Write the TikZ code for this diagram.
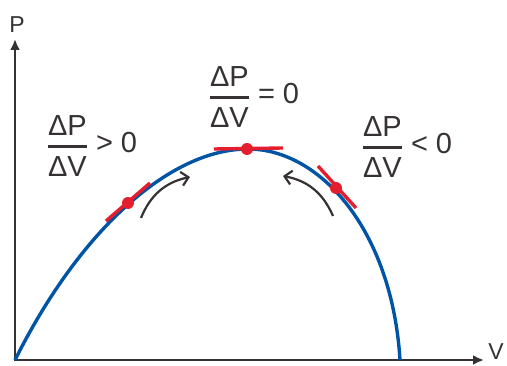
\documentclass[tikz,border=0pt]{standalone}
\usepackage{amsmath}
\usepackage{fontspec}
\setmainfont{Liberation Sans}
\usetikzlibrary{arrows.meta,positioning}
\definecolor{curveblue}{RGB}{0,84,166}
\definecolor{tanred}{RGB}{228,30,45}
\definecolor{axisgray}{RGB}{55,50,50}
\newcommand{\dPdV}{$\displaystyle{\text{ΔP}\above2.8pt\text{ΔV}}$}

\begin{document}
\begin{tikzpicture}[
    x=1pt, y=-1pt,
    axis/.style={draw=axisgray, line width=2.8pt, -{Latex[length=11pt,width=10pt]}},
    pvcurve/.style={draw=curveblue, line width=3.4pt},
    tangent/.style={draw=tanred, line width=3.4pt},
    dot/.style={circle, fill=tanred, inner sep=0pt, minimum size=12pt},
    move/.style={draw=axisgray, line width=2.2pt, -{Straight Barb[length=7pt,width=14pt]}},
    lbl/.style={text=axisgray, font=\fontsize{29}{34}\selectfont, inner sep=0pt},
    axlbl/.style={text=axisgray, font=\fontsize{23}{28}\selectfont, inner sep=0pt},
]
\useasboundingbox (0,0) rectangle (507,366);

% axes
\coordinate (O) at (15,360);
\coordinate (ytop) at (15,39);
\coordinate (xend) at (484,360);
\draw[axis] ([yshift=-1.4pt]O) -- (ytop);
\draw[axis] ([xshift=-1.4pt]O) -- (xend);
\node[axlbl] (P) at (17,25) {P};
\node[axlbl] (V) at (496,352) {V};

% P-V curve
\coordinate (peak) at (248,149);
\coordinate (vend) at (400,360);
\draw[pvcurve] (O) .. controls (80,230) and (170,149) .. (peak)
  .. controls (320,149) and (392,230) .. (vend);

% tangents
\coordinate (tl1) at (106,221); \coordinate (tl2) at (150,183);
\coordinate (tm1) at (214,149); \coordinate (tm2) at (283,148);
\coordinate (tr1) at (318,166); \coordinate (tr2) at (356,208);
\draw[tangent] (tl1) -- (tl2);
\draw[tangent] (tm1) -- (tm2);
\draw[tangent] (tr1) -- (tr2);
\node[dot] (dl) at (128,203) {};
\node[dot] (dm) at (247,149) {};
\node[dot] (dr) at (336,188) {};

% direction arrows
\coordinate (al) at (141,218); \coordinate (al2) at (190,177);
\coordinate (ar) at (333,216); \coordinate (ar2) at (283,176);
\draw[move] (al) to[bend left=28] (al2);
\draw[move] (ar) to[bend right=28] (ar2);

% slope labels
\node[lbl] (fl) at (92,146) {\dPdV\ > 0};
\node[lbl] (fm) at (254,97) {\dPdV\ = 0};
\node[lbl] (fr) at (407,147) {\dPdV\ < 0};
\end{tikzpicture}
\end{document}
